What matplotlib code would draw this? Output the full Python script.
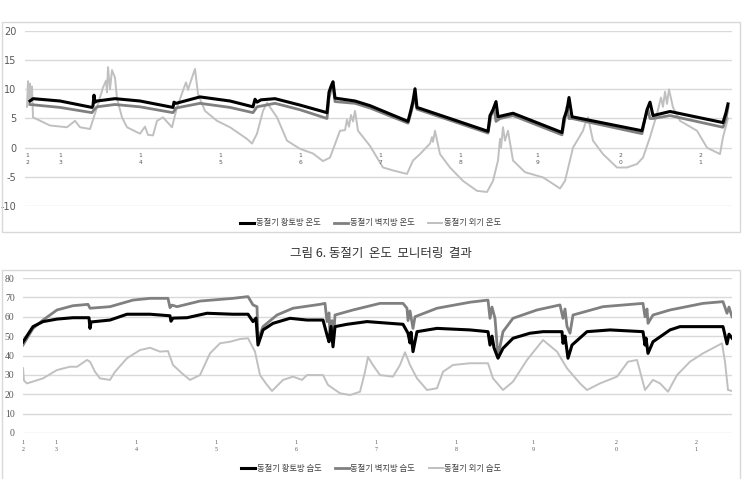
"""
동절기 온도 / 습도 모니터링 결과 (two stacked line charts)
"""

import matplotlib
matplotlib.use("Agg")
import matplotlib.pyplot as plt
from matplotlib.patches import Rectangle

plt.rcParams['font.family'] = ['Noto Sans CJK KR', 'DejaVu Sans']

# ---- x axis: hours since start of logging, day labels on category axis
day_hours = [0, 10, 34, 58, 82, 106, 130, 153, 178, 202]
day_labels = ['12', '13', '14', '15', '16', '17', '18', '19', '20', '21']

# ---- temperature (top chart)
t_ht_h = [0.9, 1.8, 9.9, 19.5, 19.8, 20.1, 20.4, 21.0, 26.4, 33.9, 43.8, 44.1, 44.7,
          51.9, 60.9, 67.8, 68.4, 69.0, 70.2, 74.4, 81.9, 90.0, 90.6, 91.2, 91.8,
          92.4, 98.4, 102.9, 114.3, 115.2, 115.8, 116.4, 117.0, 126.9, 138.3, 138.9,
          139.8, 140.7, 141.3, 142.8, 145.8, 160.5, 161.1, 162.0, 162.6, 163.5, 184.5,
          185.4, 186.0, 186.9, 187.8, 192.9, 208.8, 209.7, 210.3]
t_ht = [8.0, 8.4, 8.0, 6.9, 7.2, 9.0, 7.8, 8.0, 8.4, 8.0, 6.9, 7.8, 7.6,
        8.7, 8.0, 7.0, 8.3, 7.8, 8.2, 8.4, 7.3, 6.0, 9.5, 10.5, 11.3,
        8.5, 8.0, 7.2, 4.5, 6.5, 8.0, 10.1, 6.9, 5.0, 2.8, 5.5,
        6.5, 7.9, 5.3, 5.5, 5.9, 2.6, 5.0, 6.5, 8.6, 5.3, 2.9,
        5.0, 6.5, 7.8, 5.5, 6.2, 4.3, 6.0, 7.5]

t_bj_h = [0.9, 9.9, 19.5, 20.1, 21.0, 26.4, 33.9, 43.8, 44.7, 51.9, 60.9, 67.8, 69.0,
          74.4, 81.9, 90.0, 90.6, 91.2, 91.8, 92.4, 98.4, 102.9, 114.3, 115.2, 115.8,
          116.4, 117.0, 126.9, 138.3, 139.2, 140.1, 140.7, 141.9, 145.8, 160.5, 161.4,
          162.0, 162.6, 163.5, 184.5, 185.4, 186.3, 186.9, 187.8, 192.9, 208.8, 209.7,
          210.3]
t_bj = [7.4, 6.9, 6.0, 6.5, 7.0, 7.4, 7.0, 6.0, 6.8, 7.6, 6.9, 6.0, 7.0,
        7.6, 6.5, 5.0, 8.5, 10.0, 10.6, 7.9, 7.6, 6.8, 4.2, 6.0, 7.5,
        8.5, 6.6, 4.7, 2.5, 5.5, 6.8, 4.5, 5.0, 5.5, 2.2, 5.0,
        7.0, 5.0, 5.0, 2.4, 5.0, 6.5, 5.0, 5.0, 5.5, 3.5, 5.0,
        7.0]

t_out_h = [0.0, 0.3, 0.6, 0.9, 1.2, 1.5, 1.8, 6.9, 12.0, 14.4, 15.9, 18.9, 21.0, 22.8,
           23.7, 24.0, 24.3, 24.9, 25.5, 26.4, 27.0, 28.5, 30.0, 33.9, 35.4, 36.3,
           37.8, 39.0, 40.8, 43.5, 45.0, 46.8, 47.7, 48.3, 48.9, 49.5, 50.4, 51.3,
           53.4, 57.0, 60.9, 66.0, 67.5, 69.0, 70.8, 72.0, 75.0, 78.0, 81.9, 85.8,
           88.8, 90.9, 93.9, 95.4, 96.0, 96.6, 97.2, 97.8, 98.4, 99.3, 102.9, 106.8,
           109.8, 114.0, 115.8, 117.9, 120.9, 121.5, 121.8, 122.4, 123.9, 126.9,
           130.8, 135.0, 138.0, 139.8, 141.3, 141.9, 142.2, 142.8, 143.4, 144.3,
           145.8, 149.4, 154.8, 157.8, 159.9, 161.4, 163.8, 166.8, 167.4, 168.3,
           169.8, 172.8, 177.0, 180.0, 183.0, 184.8, 186.9, 189.0, 190.2, 190.8,
           191.4, 192.0, 192.6, 193.8, 195.9, 201.0, 204.0, 207.9, 208.8, 210.3]
t_out = [7.0, 11.4, 7.5, 11.0, 8.0, 10.5, 5.2, 3.8, 3.5, 4.6, 3.5, 3.2, 6.9, 10.3,
         11.5, 9.5, 13.8, 10.0, 13.3, 12.0, 8.4, 5.2, 3.5, 2.4, 3.6, 2.2,
         2.1, 4.6, 5.2, 3.5, 6.9, 9.8, 11.2, 9.9, 11.0, 12.0, 13.5, 9.2,
         6.3, 4.6, 3.5, 1.5, 0.7, 2.4, 6.3, 7.7, 5.2, 1.2, -0.2, -1.0,
         -2.3, -1.7, 2.9, 3.0, 4.8, 3.6, 5.6, 4.5, 6.3, 2.9, 0.3, -3.4,
         -3.9, -4.5, -2.2, -1.1, 0.7, 1.8, 1.0, 2.9, -1.1, -3.4,
         -5.7, -7.4, -7.6, -5.7, -2.2, 1.5, 0.0, 3.5, 1.2, 2.9,
         -2.2, -4.2, -5.1, -6.2, -7.0, -5.7, 0.0, 2.9, 4.0, 5.2,
         1.2, -1.1, -3.4, -3.4, -2.8, -1.7, 1.8, 5.8, 8.6, 7.0,
         9.6, 7.5, 10.0, 6.9, 4.6, 2.9, 0.0, -1.1, 1.8, 5.0]

# ---- humidity (bottom chart)
h_ht_h = [0.0, 3.0, 6.0, 10.2, 15.0, 19.8, 20.1, 20.4, 26.1, 31.2, 38.1, 44.1, 44.4,
          45.0, 49.2, 55.2, 63.0, 67.5, 69.0, 69.9, 70.5, 72.0, 75.0, 80.1, 85.2,
          90.0, 91.2, 91.8, 92.4, 93.0, 93.6, 97.2, 103.2, 114.0, 115.5, 116.1,
          116.4, 117.0, 118.2, 124.2, 134.1, 139.5, 140.1, 140.7, 141.3, 142.5,
          144.0, 147.0, 152.1, 156.0, 161.7, 162.0, 162.6, 163.5, 164.7, 169.2,
          176.1, 186.0, 186.6, 186.9, 187.5, 189.0, 194.1, 197.1, 210.0, 211.2,
          211.8, 212.7]
h_ht = [47.0, 54.9, 57.5, 58.8, 59.5, 59.5, 54.0, 57.3, 58.3, 61.3, 61.3, 60.5, 57.7,
        59.3, 59.5, 61.8, 61.3, 61.3, 57.5, 59.3, 45.4, 53.2, 56.6, 59.2, 58.3,
        58.3, 50.6, 47.1, 55.0, 44.5, 54.9, 56.1, 57.5, 56.1, 51.5, 46.5,
        52.0, 42.0, 52.3, 54.0, 53.2, 52.3, 45.4, 50.0, 44.0, 38.6,
        43.7, 48.9, 51.5, 52.3, 52.3, 46.3, 50.0, 38.6, 45.4, 52.3,
        53.2, 52.3, 45.4, 49.0, 41.1, 47.1, 53.2, 54.9, 54.9, 46.0,
        51.0, 49.0]

h_bj_h = [0.0, 3.0, 6.0, 10.2, 15.0, 19.5, 20.1, 26.1, 33.0, 38.1, 43.5, 44.1, 44.7,
          46.2, 53.1, 63.0, 67.5, 69.0, 70.2, 70.5, 72.0, 76.2, 81.0, 89.1, 90.6,
          91.2, 91.8, 92.1, 92.7, 93.3, 93.6, 99.0, 107.1, 114.0, 115.2, 115.5,
          116.1, 117.0, 117.6, 124.2, 134.1, 139.5, 140.1, 140.7, 141.6, 142.5,
          144.0, 147.0, 154.2, 161.1, 162.0, 162.6, 163.2, 164.1, 165.0, 174.0,
          186.0, 186.6, 187.2, 187.5, 189.0, 194.1, 204.0, 210.0, 211.2, 211.8,
          212.7]
h_bj = [45.4, 54.0, 58.3, 63.5, 65.7, 66.4, 64.4, 65.2, 68.6, 69.5, 69.5, 64.7, 66.0,
        65.2, 68.1, 69.5, 70.4, 66.1, 65.2, 48.0, 54.9, 60.9, 64.4, 66.4, 66.9,
        57.5, 62.0, 50.0, 58.0, 52.3, 60.9, 63.5, 66.9, 66.9, 64.4, 58.0,
        63.0, 54.0, 60.0, 64.4, 67.5, 68.6, 59.2, 65.0, 59.2, 39.4,
        52.3, 59.2, 63.5, 66.1, 59.2, 64.0, 55.0, 51.5, 60.9, 65.2,
        66.9, 60.0, 64.0, 56.6, 60.9, 63.5, 66.9, 67.8, 61.8, 65.0,
        60.0]

h_out_h = [0.0, 0.3, 1.2, 6.0, 10.2, 14.1, 16.2, 19.2, 20.1, 21.6, 23.1, 26.1, 27.6,
           31.2, 35.1, 38.1, 41.1, 43.5, 45.0, 47.7, 50.1, 53.1, 56.1, 59.1, 62.1,
           65.1, 67.5, 69.6, 71.1, 73.2, 74.7, 78.0, 81.0, 83.7, 85.2, 90.0, 91.5,
           95.1, 98.1, 101.1, 102.6, 103.5, 105.0, 107.1, 111.0, 113.1, 114.6,
           116.1, 118.2, 121.2, 124.2, 126.0, 129.0, 134.1, 139.5, 141.0, 144.0,
           147.0, 151.2, 156.0, 160.2, 163.2, 167.1, 169.2, 173.1, 178.2, 181.5,
           184.2, 186.6, 189.0, 191.1, 193.5, 196.2, 200.1, 204.0, 209.7, 210.6,
           211.5, 212.7]
h_out = [33.5, 27.0, 25.6, 28.2, 32.5, 34.2, 34.2, 37.7, 36.8, 31.6, 28.2, 27.4, 31.6,
         38.6, 42.8, 44.0, 42.0, 42.3, 35.1, 30.8, 27.4, 29.9, 41.1, 46.3, 47.1,
         48.5, 48.9, 42.0, 29.9, 24.8, 21.7, 27.4, 29.1, 27.4, 29.9, 29.9, 24.8,
         20.5, 19.6, 21.3, 31.6, 39.2, 35.0, 29.9, 29.1, 35.1, 41.7,
         35.1, 28.2, 22.2, 23.1, 31.6, 35.1, 36.0, 36.0, 28.2, 22.2,
         26.5, 37.7, 48.0, 42.0, 33.4, 25.6, 22.2, 25.6, 29.1, 36.8,
         37.7, 22.2, 27.4, 25.6, 21.3, 29.9, 36.8, 41.1, 46.3, 36.8,
         22.2, 21.7]

C_HT = '#000000'
C_BJ = '#808080'
C_OUT = '#c0c0c0'
GRID = '#d9d9d9'
TXT = '#595959'


def style_axes(ax, yticks, ylim, xlim, tick_font):
    ax.set_xlim(*xlim)
    ax.set_ylim(*ylim)
    ax.set_yticks(yticks)
    ax.set_yticklabels([str(v) for v in yticks], family=tick_font,
                       fontsize=7, color=TXT)
    ax.tick_params(axis='y', length=0, pad=6)
    ax.set_xticks([])
    for s in ax.spines.values():
        s.set_visible(False)
    for v in yticks:
        ax.axhline(v, color=GRID, lw=1.0, zorder=0)


def day_ticks(ax, y, tick_font, coords='data'):
    for h, lab in zip(day_hours, day_labels):
        if coords == 'data':
            ax.text(h, y, lab[0] + '\n' + lab[1], ha='center', va='top',
                    fontsize=4.3, color=TXT, family=tick_font, linespacing=1.5)
        else:
            ax.annotate(lab[0] + '\n' + lab[1], xy=(h, 0),
                        xycoords=('data', 'axes fraction'), xytext=(0, -5),
                        textcoords='offset points', ha='center', va='top',
                        fontsize=4.3, color=TXT, family=tick_font, linespacing=1.5)


fig = plt.figure(figsize=(7.51, 4.79), dpi=100)

# frames around each chart
fig.add_artist(Rectangle((2 / 751, 1 - 232 / 479), 738 / 751, 210 / 479,
                         transform=fig.transFigure, fill=False, ec=GRID, lw=1))
fig.add_artist(Rectangle((2 / 751, -0.01), 738 / 751, 1 - 270 / 479 + 0.01,
                         transform=fig.transFigure, fill=False, ec=GRID, lw=1))

# ---- top: temperature
ax1 = fig.add_axes([25 / 751, 1 - 206 / 479, 707 / 751, 175 / 479])
style_axes(ax1, [-10, -5, 0, 5, 10, 15, 20], (-10, 20), (-0.6, 211.5), 'DejaVu Sans')
ax1.plot(t_out_h, t_out, color=C_OUT, lw=1.4, label='동절기 외기 온도', zorder=2)
ax1.plot(t_bj_h, t_bj, color=C_BJ, lw=2.0, label='동절기 벽지방 온도', zorder=3)
ax1.plot(t_ht_h, t_ht, color=C_HT, lw=2.2, label='동절기 황토방 온도', zorder=4)
day_ticks(ax1, -0.9, 'DejaVu Sans')
h, l = ax1.get_legend_handles_labels()
ax1.legend(h[::-1], l[::-1], loc='center', bbox_to_anchor=(0.489, -0.097), ncol=3,
           frameon=False, fontsize=6, handlelength=1.7, handletextpad=0.2,
           columnspacing=1.6, labelcolor='#404040')

fig.text(0.507, 1 - 253 / 479, '그림 6. 동절기  온도  모니터링  결과', ha='center',
         va='center', fontsize=9, color='#333333')

# ---- bottom: humidity
ax2 = fig.add_axes([23 / 751, 1 - 433 / 479, 709 / 751, 155 / 479])
style_axes(ax2, [0, 10, 20, 30, 40, 50, 60, 70, 80], (0, 80), (0, 212.7),
           'Liberation Serif')
ax2.plot(h_out_h, h_out, color=C_OUT, lw=1.4, label='동절기 외기 습도', zorder=2)
ax2.plot(h_bj_h, h_bj, color=C_BJ, lw=2.0, label='동절기 벽지방 습도', zorder=3)
ax2.plot(h_ht_h, h_ht, color=C_HT, lw=2.2, label='동절기 황토방 습도', zorder=4)
day_ticks(ax2, 0, 'Liberation Serif', coords='axes')
h, l = ax2.get_legend_handles_labels()
ax2.legend(h[::-1], l[::-1], loc='center', bbox_to_anchor=(0.491, -0.226), ncol=3,
           frameon=False, fontsize=6, handlelength=1.7, handletextpad=0.2,
           columnspacing=1.6, labelcolor='#404040')

fig.savefig('out.png', dpi=100)
print("Saved: out.png")
